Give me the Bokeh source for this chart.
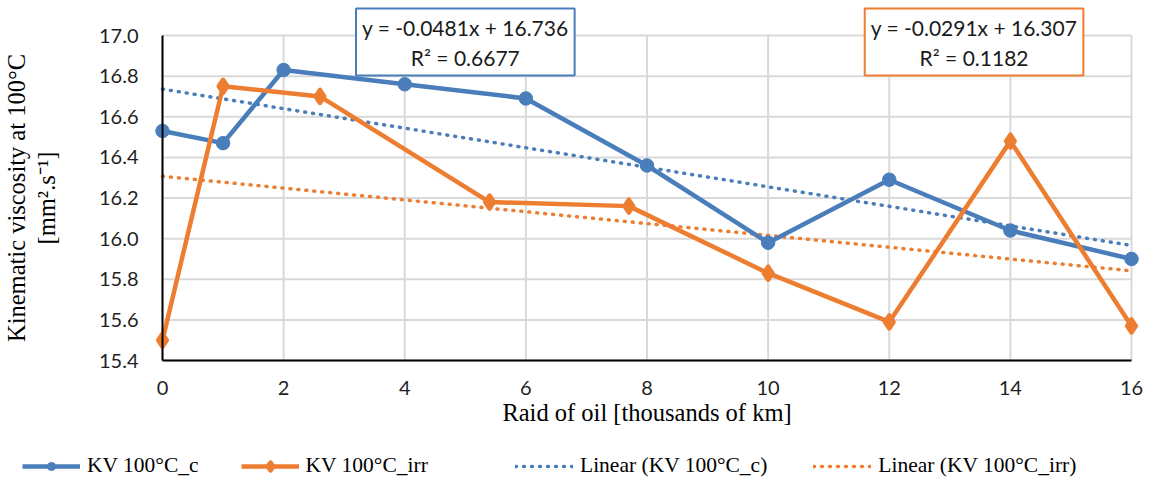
from bokeh.plotting import figure
from bokeh.models import Legend, LegendItem, Label, FixedTicker, Range1d, CustomJSTickFormatter
from bokeh.embed import file_html
from bokeh.resources import INLINE

# ---- data ----
x_c = [0, 1, 2, 4, 6, 8, 10, 12, 14, 16]
kv_c = [16.53, 16.47, 16.83, 16.76, 16.69, 16.36, 15.98, 16.29, 16.04, 15.90]
x_irr = [0, 1, 2.6, 5.4, 7.7, 10, 12, 14, 16]
kv_irr = [15.50, 16.75, 16.70, 16.18, 16.16, 15.83, 15.59, 16.48, 15.57]
trend_c = {"slope": -0.0481, "intercept": 16.736, "r2": 0.6677}
trend_irr = {"slope": -0.0291, "intercept": 16.307, "r2": 0.1182}
x_ticks = [0, 2, 4, 6, 8, 10, 12, 14, 16]
y_ticks = [15.4, 15.6, 15.8, 16.0, 16.2, 16.4, 16.6, 16.8, 17.0]
names = ["KV 100°C_c", "KV 100°C_irr", "Linear (KV 100°C_c)", "Linear (KV 100°C_irr)"]

BLUE = "#4a7ebb"
ORANGE = "#ed7d31"
GRID = "#d9d9d9"
SERIF = "Liberation Serif"
SANS = "Lato"

# ---- layout (pixels): the frame covers the whole canvas, axes sit at fixed locations ----
W, H = 1157, 488
AX_L, AX_R, AX_T, AX_B = 162, 1131, 35, 360
xmin, xmax = x_ticks[0], x_ticks[-1]
ymin, ymax = y_ticks[0], y_ticks[-1]
sx = (AX_R - AX_L) / (xmax - xmin)
sy = (AX_B - AX_T) / (ymax - ymin)
x_range = Range1d(xmin - AX_L / sx, xmax + (W - AX_R) / sx)
y_range = Range1d(ymin - (H - AX_B) / sy, ymax + AX_T / sy)

p = figure(width=W, height=H, output_backend="svg", toolbar_location=None,
           x_range=x_range, y_range=y_range,
           min_border=0, min_border_left=0, min_border_right=0,
           min_border_top=0, min_border_bottom=0)
p.outline_line_color = None
p.xgrid.visible = False
p.ygrid.visible = False

# gridlines drawn from tick values
p.segment(x0=[xmin] * len(y_ticks), x1=[xmax] * len(y_ticks), y0=y_ticks, y1=y_ticks,
          line_color=GRID, line_width=2, level="underlay")
p.segment(x0=x_ticks, x1=x_ticks, y0=[ymin] * len(x_ticks), y1=[ymax] * len(x_ticks),
          line_color=GRID, line_width=2, level="underlay")

for ax in (p.xaxis[0], p.yaxis[0]):
    ax.major_tick_line_color = None
    ax.minor_tick_line_color = None
    ax.axis_line_color = "black"
    ax.axis_line_width = 2
    ax.major_label_text_font = SANS
    ax.major_label_text_font_size = "20px"
    ax.major_label_text_color = "#1f1f1f"
    ax.axis_label_text_font = SERIF
    ax.axis_label_text_font_style = "normal"
    ax.axis_label_text_font_size = "24.5px"
    ax.axis_label_text_color = "black"

p.xaxis.ticker = FixedTicker(ticks=x_ticks)
p.yaxis.ticker = FixedTicker(ticks=y_ticks)
p.yaxis.formatter = CustomJSTickFormatter(code="return tick.toFixed(1);")
p.xaxis.bounds = (xmin, xmax)
p.yaxis.bounds = (ymin, ymax)
p.xaxis.fixed_location = ymin
p.yaxis.fixed_location = xmin
p.xaxis.major_label_standoff = 14
p.yaxis.major_label_standoff = 18
p.xaxis.axis_label = "Raid of oil [thousands of km]"
p.yaxis.axis_label = "Kinematic viscosity at 100°C\n[mm².s⁻¹]"
p.yaxis.axis_label_text_line_height = 1.1
p.xaxis.axis_label_standoff = 1
p.yaxis.axis_label_standoff = 36

# trendlines
tx = [xmin, xmax]
ty_c = [trend_c["intercept"] + trend_c["slope"] * v for v in tx]
ty_irr = [trend_irr["intercept"] + trend_irr["slope"] * v for v in tx]
trend_style = dict(line_width=3.5, line_dash="1 7", line_cap="round")
r3 = p.line(tx, ty_c, line_color=BLUE, **trend_style)
r4 = p.line(tx, ty_irr, line_color=ORANGE, **trend_style)

# series
l_c = p.line(x_c, kv_c, line_color=BLUE, line_width=4.5)
m_c = p.scatter(x_c, kv_c, marker="circle", size=13.5, fill_color=BLUE, line_color=BLUE)
l_i = p.line(x_irr, kv_irr, line_color=ORANGE, line_width=4.5)
m_i = p.scatter(x_irr, kv_irr, marker="diamond", size=13, line_width=4.5,
                fill_color=ORANGE, line_color=ORANGE, line_join="round")

# equation labels
def eq_text(t):
    return f"y = {t['slope']:.4f}x + {t['intercept']:.3f}\nR² = {t['r2']:.4f}"

for t, cx, col in ((trend_c, 5.0, BLUE), (trend_irr, 13.4, ORANGE)):
    lab = Label(x=cx, y=ymax - (41.5 - AX_T) / sy, text=eq_text(t),
                text_align="center", text_baseline="middle",
                text_font=SANS, text_font_size="21px", text_color="#1a1a1a",
                background_fill_color="white", border_line_color=col, border_line_width=2,
                padding=6)
    p.add_layout(lab)

# legend (two horizontal groups, below the axes)
legA = Legend(items=[LegendItem(label=names[0], renderers=[l_c, m_c]),
                     LegendItem(label=names[1], renderers=[l_i, m_i])],
              orientation="horizontal", location=(22, 10), spacing=42)
legB = Legend(items=[LegendItem(label=names[2], renderers=[r3]),
                     LegendItem(label=names[3], renderers=[r4])],
              orientation="horizontal", location=(515, 10), spacing=46)
for lg in (legA, legB):
    lg.glyph_width = 58
    lg.glyph_height = 20
    lg.label_standoff = 7
    lg.label_text_font = SERIF
    lg.label_text_font_size = "21.5px"
    lg.label_text_color = "black"
    lg.border_line_color = None
    lg.background_fill_alpha = 0
    lg.padding = 0
    lg.margin = 0
    p.add_layout(lg)

open("out.html", "w").write(file_html(p, INLINE))
